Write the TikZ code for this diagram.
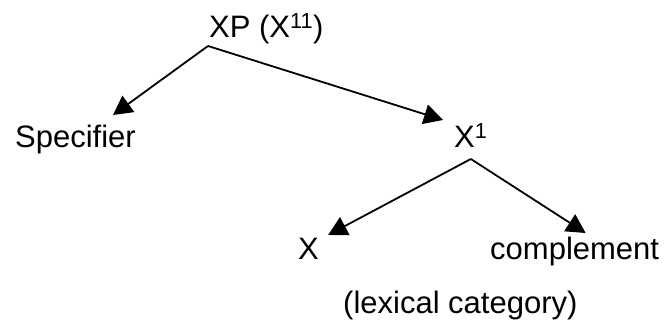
\documentclass[tikz,border=0pt]{standalone}
\usepackage{fontspec}
\setmainfont{Liberation Sans}
\usetikzlibrary{arrows.meta, calc}

\begin{document}
\begin{tikzpicture}[
    x=1pt, y=1pt,
    word/.style={inner sep=0pt, anchor=base west, font=\fontsize{31}{36}\selectfont},
    arrow/.style={-{Triangle[length=19pt, width=20pt]}, line width=1.8pt}
]
\useasboundingbox (0,0) rectangle (668,323);

\node[word] (xp) at (209,285) {XP (X\textsuperscript{11})};
\node[word] (spec) at (15,175) {Specifier};
\node[word] (xbar) at (454,175) {X\textsuperscript{1}};
\node[word] (xhead) at (298,63) {X};
\node[word] (comp) at (490,63) {complement};
\node[word] (lex) at (343,9) {(lexical category)};

\draw[arrow] ($(xp.base west)+(-1,-8)$) -- ($(spec.base east)+(-23,33)$);
\draw[arrow] ($(xp.base west)+(-1,-8)$) -- ($(xbar.base west)+(-11,28)$);
\draw[arrow] ($(xbar.base)+(0,-11)$) -- ($(xhead.base east)+(9,25)$);
\draw[arrow] ($(xbar.base)+(0,-11)$) -- ($(comp.base)+(11,27)$);
\end{tikzpicture}
\end{document}
